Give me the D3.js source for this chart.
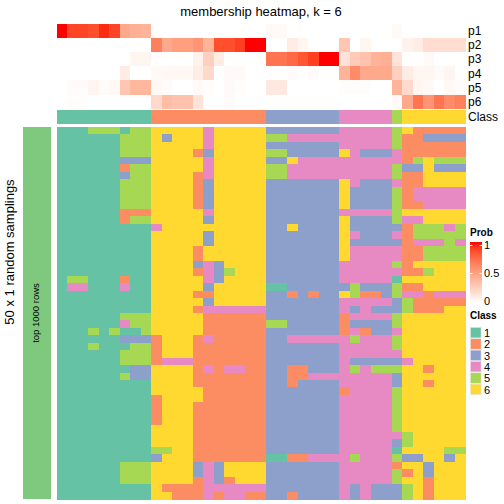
<!DOCTYPE html>
<html>
<head>
<meta charset="utf-8">
<script src="https://cdn.jsdelivr.net/npm/d3@7"></script>
<style>
  html, body { margin: 0; padding: 0; background: #fff; }
  svg { display: block; }
  text { font-family: "Liberation Sans", Arial, sans-serif; }
</style>
</head>
<body>
<svg id="chart" width="504" height="504"></svg>
<script>
// ---------------- data ----------------
const title = "membership heatmap, k = 6";
const probNames = ["p1", "p2", "p3", "p4", "p5", "p6"];
const p1 = [1.0,0.88,0.88,0.85,0.95,0.88,0.45,0.42,0.40, 0,0,0,0,0,0,0,0,0,0,0, 0.03,0.03,0,0,0,0,0, 0,0,0,0,0, 0.03, 0,0,0,0,0,0];
const p2 = [0,0,0,0,0,0,0,0,0, 0.65,0.45,0.5,0.5,0.55,0.4,0.85,0.85,0.9,1.0,1.0, 0,0,0.1,0.05,0,0,0, 0.3,0,0.05,0,0, 0, 0.07,0.1,0.18,0.18,0.18,0.18];
const p3 = [0,0,0,0,0,0,0,0.05,0.05, 0,0,0,0,0.07,0.25,0.1,0,0,0,0, 0.7,0.7,0.75,0.82,0.9,1.0,1.0, 0.15,0.28,0.32,0.4,0.42, 0.15, 0,0,0.03,0,0,0];
const p4 = [0,0,0,0,0,0,0.1,0,0, 0.03,0.04,0.04,0.04,0.1,0.2,0,0.03,0.03,0,0, 0,0,0.02,0,0.02,0,0, 0.4,0.6,0.45,0.45,0.45, 0.25, 0.1,0.05,0.05,0.03,0.05,0];
const p5 = [0,0.02,0.02,0.05,0.02,0.04,0.3,0.38,0.38, 0.04,0.02,0,0,0.03,0.01,0,0.03,0.01,0,0, 0.12,0.12,0,0,0,0,0, 0.01,0.01,0.01,0,0, 0.4, 0.2,0.05,0.04,0,0.04,0.02];
const p6 = [0,0.01,0.01,0,0,0,0,0,0, 0.2,0.35,0.32,0.32,0.15,0,0,0.02,0,0,0, 0,0,0,0,0,0,0, 0,0,0,0,0, 0.03, 0.45,0.7,0.55,0.7,0.6,0.65];
const sampleClass = [1,1,1,1,1,1,1,1,1, 2,2,2,2,2,2,2,2,2,2,2, 3,3,3,3,3,3,3, 4,4,4,4,4, 5, 6,6,6,6,6,6];
// 50 random samplings, one string per sampling, one digit (class) per sample
const samplingRows = [
  "111555155"+"66666466666"+"3333333"+"44444"+"5"+"622222",
  "111111555"+"63666466666"+"5544444"+"44444"+"5"+"223333",
  "111111555"+"66666466666"+"3333333"+"44444"+"5"+"222222",
  "111111555"+"66662366666"+"5533333"+"64333"+"4"+"222222",
  "111111333"+"66666466666"+"3364444"+"44444"+"4"+"256555",
  "111111255"+"66666466666"+"5544444"+"44444"+"5"+"336333",
  "111111355"+"66662466666"+"5544444"+"44444"+"5"+"226666",
  "111111555"+"66662366666"+"3333333"+"64333"+"4"+"226666",
  "111111555"+"66662366666"+"3333333"+"63333"+"5"+"244444",
  "111111555"+"66662366666"+"3333333"+"63333"+"5"+"244444",
  "111111555"+"66662366666"+"3333333"+"63333"+"5"+"224444",
  "111111222"+"66666466666"+"3333333"+"44444"+"5"+"666666",
  "111111255"+"66666366666"+"3333333"+"63333"+"5"+"446666",
  "111111111"+"46666666666"+"3363333"+"63333"+"3"+"255545",
  "111111111"+"66666366666"+"3333333"+"64333"+"4"+"255555",
  "111111111"+"66666366666"+"3333333"+"63333"+"3"+"244454",
  "111111111"+"66662666666"+"3333333"+"64444"+"4"+"225555",
  "111111111"+"66662666666"+"3333333"+"64444"+"4"+"225555",
  "111111111"+"66663436666"+"3333333"+"44444"+"5"+"266666",
  "111111111"+"66662435666"+"3333333"+"44444"+"4"+"225666",
  "155111211"+"66666436666"+"3333333"+"44444"+"1"+"666666",
  "144111411"+"66666366666"+"1133333"+"35333"+"5"+"226666",
  "111111111"+"66662266666"+"3323233"+"65223"+"5"+"442444",
  "111111111"+"66666366666"+"3333333"+"44444"+"3"+"522222",
  "111111111"+"66662444444"+"3333333"+"43433"+"3"+"522266",
  "111111555"+"66666222222"+"3333333"+"24444"+"5"+"666666",
  "111111455"+"66666222222"+"5533333"+"23333"+"5"+"666666",
  "111515115"+"66666222222"+"3333333"+"24233"+"4"+"666666",
  "111111333"+"26662422222"+"3344444"+"45444"+"5"+"666666",
  "111511155"+"26662222222"+"3333333"+"44444"+"5"+"666666",
  "111111555"+"26662222222"+"3333333"+"44444"+"4"+"666666",
  "111111555"+"24442222222"+"3333333"+"43333"+"3"+"466666",
  "111111133"+"66662424422"+"3322333"+"45455"+"5"+"662666",
  "111111533"+"66662222222"+"3322444"+"44444"+"3"+"666666",
  "111111111"+"66662222222"+"3323333"+"44444"+"3"+"662666",
  "111111111"+"66666222222"+"3333333"+"24444"+"5"+"666666",
  "111111111"+"26666222222"+"3333333"+"44444"+"5"+"666666",
  "111111111"+"26662222222"+"3333333"+"44444"+"5"+"666666",
  "111111111"+"26662222222"+"3333333"+"44444"+"5"+"666666",
  "111111111"+"26662222222"+"3333333"+"44444"+"5"+"666666",
  "111111111"+"66662222222"+"3333333"+"44444"+"5"+"666666",
  "111111111"+"66662222222"+"3333333"+"44444"+"4"+"566666",
  "111111111"+"66662222222"+"3333333"+"44444"+"3"+"566666",
  "111111111"+"55662222222"+"3333333"+"44444"+"1"+"666655",
  "111111111"+"36662222222"+"1122444"+"45444"+"5"+"336636",
  "111111555"+"66663436666"+"3333333"+"44444"+"2"+"663666",
  "111111555"+"66663436666"+"3333333"+"44444"+"5"+"263666",
  "111111555"+"66662432666"+"3333333"+"44444"+"5"+"662666",
  "111111111"+"62222444444"+"3333333"+"43433"+"3"+"562666",
  "111111111"+"66222424422"+"3323333"+"43433"+"3"+"562666"
];
const classLevels = [1, 2, 3, 4, 5, 6];
const classColors = ["#66C2A5", "#FC8D62", "#8DA0CB", "#E78AC3", "#A6D854", "#FFD92F"];
const probTicks = [0, 0.5, 1];
const rowTitle = "50 x 1 random samplings";
const sliceLabel = "top 1000 rows";

// ---------------- drawing ----------------
const svg = d3.select("#chart");
svg.append("rect").attr("width", 504).attr("height", 504).attr("fill", "#fff");

const probs = [p1, p2, p3, p4, p5, p6];
const nCol = sampleClass.length;
const x = d3.scaleBand().domain(d3.range(nCol)).range([57, 465]).padding(0);
const yTop = d3.scaleBand().domain(probNames).range([24, 108.6]).padding(0);
const yMain = d3.scaleBand().domain(d3.range(samplingRows.length)).range([127, 499]).padding(0);
const probColor = d3.scaleLinear().domain([0, 1]).range(["#FFFFFF", "#FF0000"]).interpolate(d3.interpolateLab);
const clsColor = d3.scaleOrdinal().domain(classLevels).range(classColors);

// title
svg.append("text").attr("x", 261).attr("y", 16).attr("text-anchor", "middle")
  .attr("font-size", 13).attr("fill", "#000").text(title);

// membership rows
const gTop = svg.append("g").attr("shape-rendering", "crispEdges");
probNames.forEach((nm, i) => {
  gTop.selectAll(null).data(probs[i]).join("rect")
    .attr("x", (d, j) => x(j)).attr("y", yTop(nm))
    .attr("width", x.bandwidth() + 0.5).attr("height", yTop.bandwidth() + 0.3)
    .attr("fill", d => probColor(d));
  svg.append("text").attr("x", 468).attr("y", yTop(nm) + yTop.bandwidth() / 2)
    .attr("dy", "0.35em").attr("font-size", 12).text(nm);
});

// class annotation
gTop.selectAll(null).data(sampleClass).join("rect")
  .attr("x", (d, j) => x(j)).attr("y", 110)
  .attr("width", x.bandwidth() + 0.5).attr("height", 14)
  .attr("fill", d => clsColor(d));
svg.append("text").attr("x", 468).attr("y", 117).attr("dy", "0.35em")
  .attr("font-size", 12).text("Class");

// main heatmap
const cells = [];
samplingRows.forEach((row, r) => {
  row.split("").forEach((ch, c) => cells.push({ r, c, v: +ch }));
});
svg.append("g").attr("shape-rendering", "crispEdges")
  .selectAll("rect").data(cells).join("rect")
  .attr("x", d => x(d.c)).attr("y", d => yMain(d.r))
  .attr("width", x.bandwidth() + 0.5).attr("height", yMain.bandwidth() + 0.5)
  .attr("fill", d => clsColor(d.v));

// left slice bar
svg.append("rect").attr("x", 23).attr("y", 127).attr("width", 28).attr("height", 372)
  .attr("fill", "#7FC97F");
svg.append("text").attr("transform", "translate(38.5,313) rotate(-90)")
  .attr("text-anchor", "middle").attr("font-size", 9.5).text(sliceLabel);
svg.append("text").attr("transform", "translate(14,252) rotate(-90)")
  .attr("text-anchor", "middle").attr("font-size", 13).text(rowTitle);

// Prob legend
const defs = svg.append("defs");
const grad = defs.append("linearGradient").attr("id", "pg")
  .attr("x1", 0).attr("y1", 1).attr("x2", 0).attr("y2", 0);
d3.range(0, 1.001, 0.1).forEach(t => {
  grad.append("stop").attr("offset", t).attr("stop-color", probColor(t));
});
const yLeg = d3.scaleLinear().domain([0, 1]).range([301.5, 245.5]);
svg.append("text").attr("x", 470).attr("y", 235.5).attr("font-size", 10)
  .attr("font-weight", "bold").text("Prob");
svg.append("rect").attr("x", 470).attr("y", 242).attr("width", 12).attr("height", 61)
  .attr("fill", "url(#pg)");
probTicks.forEach(t => {
  svg.append("line").attr("x1", 470).attr("x2", 472.5).attr("y1", yLeg(t)).attr("y2", yLeg(t))
    .attr("stroke", "#fff").attr("stroke-width", 1);
  svg.append("line").attr("x1", 479.5).attr("x2", 482).attr("y1", yLeg(t)).attr("y2", yLeg(t))
    .attr("stroke", "#fff").attr("stroke-width", 1);
  svg.append("text").attr("x", 484).attr("y", yLeg(t)).attr("dy", "0.35em")
    .attr("font-size", 11).text(t);
});

// Class legend
svg.append("text").attr("x", 470).attr("y", 319).attr("font-size", 10)
  .attr("font-weight", "bold").text("Class");
const yCls = d3.scaleBand().domain(classLevels).range([327, 395]);
classLevels.forEach(k => {
  svg.append("rect").attr("x", 470.5).attr("y", yCls(k) + 0.5).attr("width", 10.5).attr("height", yCls.bandwidth() - 1)
    .attr("fill", clsColor(k)).attr("stroke", "#ddd").attr("stroke-width", 0.5);
  svg.append("text").attr("x", 484).attr("y", yCls(k) + yCls.bandwidth() / 2 + 0.5)
    .attr("dy", "0.35em").attr("font-size", 11).text(k);
});
</script>
</body>
</html>
